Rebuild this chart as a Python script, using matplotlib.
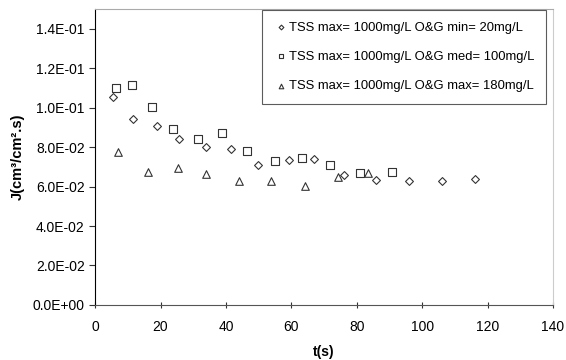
import matplotlib
matplotlib.use("Agg")
import matplotlib.pyplot as plt
from matplotlib.ticker import FuncFormatter

plt.rcParams['font.family'] = ['Liberation Sans', 'DejaVu Sans']

# O&G min = 20 mg/L
t_min = [5.4, 11.7, 18.9, 25.8, 33.8, 41.5, 49.9, 59.2, 67.0, 76.1, 85.9, 96.1, 106.2, 116.1]
j_min = [0.1054, 0.0942, 0.0905, 0.0841, 0.0798, 0.0790, 0.0709, 0.0736, 0.0742,
         0.0660, 0.0634, 0.0626, 0.0627, 0.0636]

# O&G med = 100 mg/L
t_med = [6.4, 11.4, 17.4, 23.8, 31.6, 38.8, 46.3, 55.0, 63.4, 71.9, 81.0, 90.7]
j_med = [0.1100, 0.1113, 0.1001, 0.0893, 0.0839, 0.0869, 0.0781, 0.0732, 0.0747,
         0.0707, 0.0670, 0.0673]

# O&G max = 180 mg/L
t_max = [7.0, 16.2, 25.2, 34.0, 44.0, 53.9, 64.1, 74.4, 83.3]
j_max = [0.0775, 0.0675, 0.0693, 0.0665, 0.0630, 0.0627, 0.0604, 0.0650, 0.0670]

labels = [
    'TSS max= 1000mg/L O&G min= 20mg/L',
    'TSS max= 1000mg/L O&G med= 100mg/L',
    'TSS max= 1000mg/L O&G max= 180mg/L',
]


def sci_fmt(v, pos):
    s = f"{v:.1E}"
    mant, exp = s.split('E')
    return f"{mant}E{exp[0]}{int(exp[1:]):02d}"


fig = plt.figure(figsize=(5.66, 3.6), dpi=100)
ax = fig.add_axes([0.168, 0.153, 0.809, 0.822])

edge = '#333333'
ax.scatter(t_min, j_min, marker='D', s=16, facecolors='white', edgecolors=edge, linewidths=0.8, label=labels[0])
ax.scatter(t_med, j_med, marker='s', s=30, facecolors='white', edgecolors=edge, linewidths=0.8, label=labels[1])
ax.scatter(t_max, j_max, marker='^', s=30, facecolors='white', edgecolors=edge, linewidths=0.8, label=labels[2])

ax.set_xlim(0, 140)
ax.set_ylim(0, 0.15)
ax.set_xticks(range(0, 141, 20))
ax.set_yticks([0, 0.02, 0.04, 0.06, 0.08, 0.10, 0.12, 0.14])
ax.yaxis.set_major_formatter(FuncFormatter(sci_fmt))
ax.tick_params(axis='both', labelsize=10, color='#333333', length=4)
ax.tick_params(axis='x', direction='inout', length=5, pad=8)

ax.spines['left'].set_color('black')
ax.spines['bottom'].set_color('#555555')
ax.spines['top'].set_color('#aaaaaa')
ax.spines['right'].set_color('#cccccc')

ax.set_xlabel('t(s)', fontsize=10, fontweight='bold', labelpad=8)
ax.set_ylabel('J(cm³/cm².s)', fontsize=10.5, fontweight='bold', labelpad=6)

leg = ax.legend(loc='upper right', bbox_to_anchor=(0.985, 0.997), fontsize=9.4,
                frameon=True, fancybox=False, edgecolor='#333333',
                handletextpad=0.15, handlelength=1.0, labelspacing=1.3,
                borderpad=0.9, borderaxespad=0, markerscale=0.6)
leg.get_frame().set_linewidth(0.8)

fig.savefig('out.png', dpi=100)
